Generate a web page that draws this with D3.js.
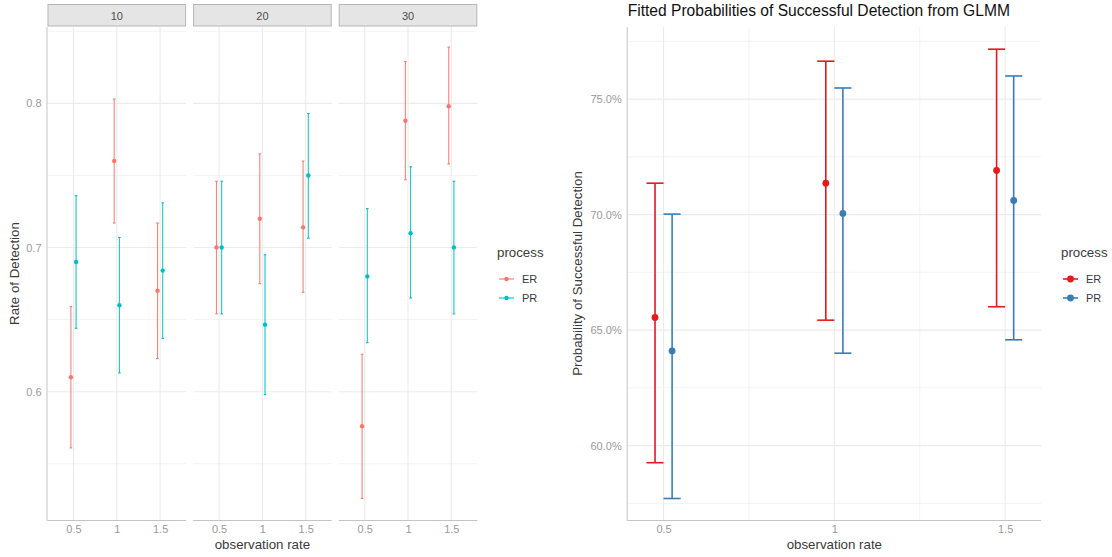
<!DOCTYPE html>
<html><head><meta charset="utf-8">
<script src="https://cdn.jsdelivr.net/npm/d3@7"></script>
<style>body{margin:0;background:#fff;font-family:"Liberation Sans",Arial,sans-serif;}</style>
</head><body><svg id="c" width="1112" height="557"></svg>
<script>
// ---- Data: left plot (faceted observed rates) ----
const facets = ["10", "20", "30"];
const obsRates = ["0.5", "1", "1.5"];
const processes = ["ER", "PR"];
// values per facet, per observation rate
const erRate = [[0.610, 0.760, 0.670], [0.700, 0.720, 0.714], [0.576, 0.788, 0.798]];
const erLow  = [[0.561, 0.717, 0.623], [0.654, 0.675, 0.669], [0.526, 0.747, 0.758]];
const erHigh = [[0.659, 0.803, 0.717], [0.746, 0.765, 0.760], [0.626, 0.829, 0.839]];
const prRate = [[0.690, 0.660, 0.684], [0.700, 0.6465, 0.750], [0.680, 0.710, 0.700]];
const prLow  = [[0.644, 0.613, 0.637], [0.654, 0.598, 0.7065], [0.634, 0.665, 0.654]];
const prHigh = [[0.736, 0.707, 0.731], [0.746, 0.695, 0.793], [0.727, 0.756, 0.746]];
const leftYTicks = [0.6, 0.7, 0.8];
const leftYMinor = [0.55, 0.65, 0.75, 0.85];

// ---- Data: right plot (GLMM fitted probabilities) ----
const glmmX = [0.5, 1, 1.5];
const glmmER = [0.6555, 0.7136, 0.7191];
const glmmERLow = [0.5926, 0.6543, 0.6601];
const glmmERHigh = [0.7136, 0.7664, 0.7716];
const glmmPR = [0.6410, 0.7005, 0.7061];
const glmmPRLow = [0.5771, 0.6400, 0.6458];
const glmmPRHigh = [0.7002, 0.7548, 0.7600];
const rightYTicks = [0.60, 0.65, 0.70, 0.75];
const rightYMinor = [0.575, 0.625, 0.675, 0.725, 0.775];
const rightXTicks = [0.5, 1, 1.5];
const rightXMinor = [0.75, 1.25];

const svg = d3.select("#c");
const grid = "#ebebeb", axisCol = "#c4c4c4", tickCol = "#9a9a9a", titleCol = "#3a3a3a";

// ================= LEFT PLOT =================
const lcol = {ER: "#F8766D", PR: "#00BFC4"};
const pTop = 27, pBot = 520;
const yL = d3.scaleLinear().domain([0.511, 0.853]).range([pBot, pTop]);
const panelW = 138.6, gap = 7, x0 = 47.5;

facets.forEach((f, fi) => {
  const left = x0 + fi * (panelW + gap);
  const xs = d3.scaleLinear().domain([0.4, 3.6]).range([left, left + panelW]);
  const g = svg.append("g");
  leftYMinor.forEach(v => g.append("line").attr("x1", left).attr("x2", left + panelW)
    .attr("y1", yL(v)).attr("y2", yL(v)).attr("stroke", grid).attr("stroke-width", 0.6));
  leftYTicks.forEach(v => g.append("line").attr("x1", left).attr("x2", left + panelW)
    .attr("y1", yL(v)).attr("y2", yL(v)).attr("stroke", grid).attr("stroke-width", 1.1));
  obsRates.forEach((r, i) => g.append("line").attr("x1", xs(i + 1)).attr("x2", xs(i + 1))
    .attr("y1", pTop).attr("y2", pBot).attr("stroke", grid).attr("stroke-width", 1.1));
  g.append("rect").attr("x", left + 0.5).attr("y", 4.5).attr("width", panelW - 1).attr("height", 21.5)
    .attr("fill", "#e5e5e5").attr("stroke", "#b5b5b5").attr("stroke-width", 1);
  g.append("text").attr("x", left + panelW / 2).attr("y", 19.5).attr("text-anchor", "middle")
    .attr("font-size", 11).attr("fill", "#4d4d4d").text(f);
  g.append("line").attr("x1", left).attr("x2", left + panelW).attr("y1", pBot + 0.5).attr("y2", pBot + 0.5)
    .attr("stroke", axisCol).attr("stroke-width", 1);
  const ax = d3.axisBottom(xs).tickValues([1, 2, 3]).tickFormat((d) => obsRates[d - 1]).tickSize(0).tickPadding(5);
  const axg = g.append("g").attr("transform", `translate(0,${pBot})`).call(ax);
  axg.select(".domain").remove();
  axg.selectAll("text").attr("font-size", 11).attr("fill", tickCol).attr("font-family", "Liberation Sans, Arial, sans-serif");
  if (fi === 0) {
    g.append("line").attr("x1", left - 0.5).attr("x2", left - 0.5).attr("y1", pTop).attr("y2", pBot + 1)
      .attr("stroke", axisCol).attr("stroke-width", 1);
    const ay = d3.axisLeft(yL).tickValues(leftYTicks).tickFormat(d3.format(".1f")).tickSize(0).tickPadding(6);
    const ayg = g.append("g").attr("transform", `translate(${left},0)`).call(ay);
    ayg.select(".domain").remove();
    ayg.selectAll("text").attr("font-size", 11).attr("fill", tickCol).attr("font-family", "Liberation Sans, Arial, sans-serif");
  }
  const series = [
    {p: "ER", v: erRate[fi], lo: erLow[fi], hi: erHigh[fi], off: -0.06},
    {p: "PR", v: prRate[fi], lo: prLow[fi], hi: prHigh[fi], off: 0.06}
  ];
  series.forEach(s => {
    s.v.forEach((v, i) => {
      const cx = xs(i + 1 + s.off);
      const c = lcol[s.p];
      g.append("line").attr("x1", cx).attr("x2", cx).attr("y1", yL(s.lo[i])).attr("y2", yL(s.hi[i]))
        .attr("stroke", c).attr("stroke-width", 1.1).attr("stroke-opacity", 0.9);
      [s.lo[i], s.hi[i]].forEach(e => g.append("line").attr("x1", cx - 1.3).attr("x2", cx + 1.3)
        .attr("y1", yL(e)).attr("y2", yL(e)).attr("stroke", c).attr("stroke-width", 1.1));
      g.append("circle").attr("cx", cx).attr("cy", yL(v)).attr("r", 2.2).attr("fill", c);
    });
  });
});
svg.append("text").attr("x", x0 + (3 * panelW + 2 * gap) / 2).attr("y", 549).attr("text-anchor", "middle")
  .attr("font-size", 13.3).attr("fill", titleCol).text("observation rate");
svg.append("text").attr("transform", `translate(19,${(pTop + pBot) / 2}) rotate(-90)`).attr("text-anchor", "middle")
  .attr("font-size", 13.3).attr("fill", titleCol).text("Rate of Detection");
function legend(x, y, cols, lw, r) {
  svg.append("text").attr("x", x).attr("y", y).attr("font-size", 13.3).attr("fill", titleCol).text("process");
  processes.forEach((p, i) => {
    const yy = y + 22 + i * 19;
    svg.append("line").attr("x1", x + 2).attr("x2", x + 17).attr("y1", yy).attr("y2", yy)
      .attr("stroke", cols[p]).attr("stroke-width", lw);
    svg.append("circle").attr("cx", x + 9.5).attr("cy", yy).attr("r", r).attr("fill", cols[p]);
    svg.append("text").attr("x", x + 25).attr("y", yy + 4).attr("font-size", 11).attr("fill", titleCol).text(p);
  });
}
legend(497, 257, lcol, 1.1, 2.2);

// ================= RIGHT PLOT =================
const rcol = {ER: "#E41A1C", PR: "#377EB8"};
const rL = 627.7, rR = 1041;
const xR = d3.scaleLinear().domain([0.395, 1.605]).range([rL, rR]);
const yR = d3.scaleLinear().domain([0.5678, 0.7812]).range([pBot, pTop]);
const gr = svg.append("g");
rightYMinor.forEach(v => gr.append("line").attr("x1", rL).attr("x2", rR).attr("y1", yR(v)).attr("y2", yR(v))
  .attr("stroke", grid).attr("stroke-width", 0.6));
rightXMinor.forEach(v => gr.append("line").attr("x1", xR(v)).attr("x2", xR(v)).attr("y1", pTop).attr("y2", pBot)
  .attr("stroke", grid).attr("stroke-width", 0.6));
rightYTicks.forEach(v => gr.append("line").attr("x1", rL).attr("x2", rR).attr("y1", yR(v)).attr("y2", yR(v))
  .attr("stroke", grid).attr("stroke-width", 1.1));
rightXTicks.forEach(v => gr.append("line").attr("x1", xR(v)).attr("x2", xR(v)).attr("y1", pTop).attr("y2", pBot)
  .attr("stroke", grid).attr("stroke-width", 1.1));
gr.append("line").attr("x1", rL - 0.5).attr("x2", rL - 0.5).attr("y1", pTop).attr("y2", pBot + 1).attr("stroke", axisCol);
gr.append("line").attr("x1", rL).attr("x2", rR).attr("y1", pBot + 0.5).attr("y2", pBot + 0.5).attr("stroke", axisCol);
const axR = gr.append("g").attr("transform", `translate(0,${pBot})`)
  .call(d3.axisBottom(xR).tickValues(rightXTicks).tickFormat(d => String(d)).tickSize(0).tickPadding(5));
axR.select(".domain").remove();
axR.selectAll("text").attr("font-size", 11).attr("fill", tickCol).attr("font-family", "Liberation Sans, Arial, sans-serif");
const ayR = gr.append("g").attr("transform", `translate(${rL},0)`)
  .call(d3.axisLeft(yR).tickValues(rightYTicks).tickFormat(d3.format(".1%")).tickSize(0).tickPadding(6));
ayR.select(".domain").remove();
ayR.selectAll("text").attr("font-size", 11).attr("fill", tickCol).attr("font-family", "Liberation Sans, Arial, sans-serif");

const rseries = [
  {p: "ER", v: glmmER, lo: glmmERLow, hi: glmmERHigh, off: -0.025},
  {p: "PR", v: glmmPR, lo: glmmPRLow, hi: glmmPRHigh, off: 0.025}
];
rseries.forEach(s => {
  const c = rcol[s.p];
  glmmX.forEach((xv, i) => {
    const cx = xR(xv + s.off);
    const hw = xR(xv + s.off + 0.025) - cx;
    gr.append("line").attr("x1", cx).attr("x2", cx).attr("y1", yR(s.lo[i])).attr("y2", yR(s.hi[i]))
      .attr("stroke", c).attr("stroke-width", 1.6);
    [s.lo[i], s.hi[i]].forEach(e => gr.append("line").attr("x1", cx - hw).attr("x2", cx + hw)
      .attr("y1", yR(e)).attr("y2", yR(e)).attr("stroke", c).attr("stroke-width", 1.6));
    gr.append("circle").attr("cx", cx).attr("cy", yR(s.v[i])).attr("r", 3.4).attr("fill", c);
  });
});
svg.append("text").attr("x", 627.7).attr("y", 16).attr("font-size", 15.6).attr("fill", "#111").text("Fitted Probabilities of Successful Detection from GLMM");
svg.append("text").attr("x", (rL + rR) / 2).attr("y", 549).attr("text-anchor", "middle")
  .attr("font-size", 13.3).attr("fill", titleCol).text("observation rate");
svg.append("text").attr("transform", `translate(582,${(pTop + pBot) / 2}) rotate(-90)`).attr("text-anchor", "middle")
  .attr("font-size", 13.3).attr("fill", titleCol).text("Probability of Successful Detection");
legend(1061, 257, rcol, 1.6, 3.4);
</script></body></html>
